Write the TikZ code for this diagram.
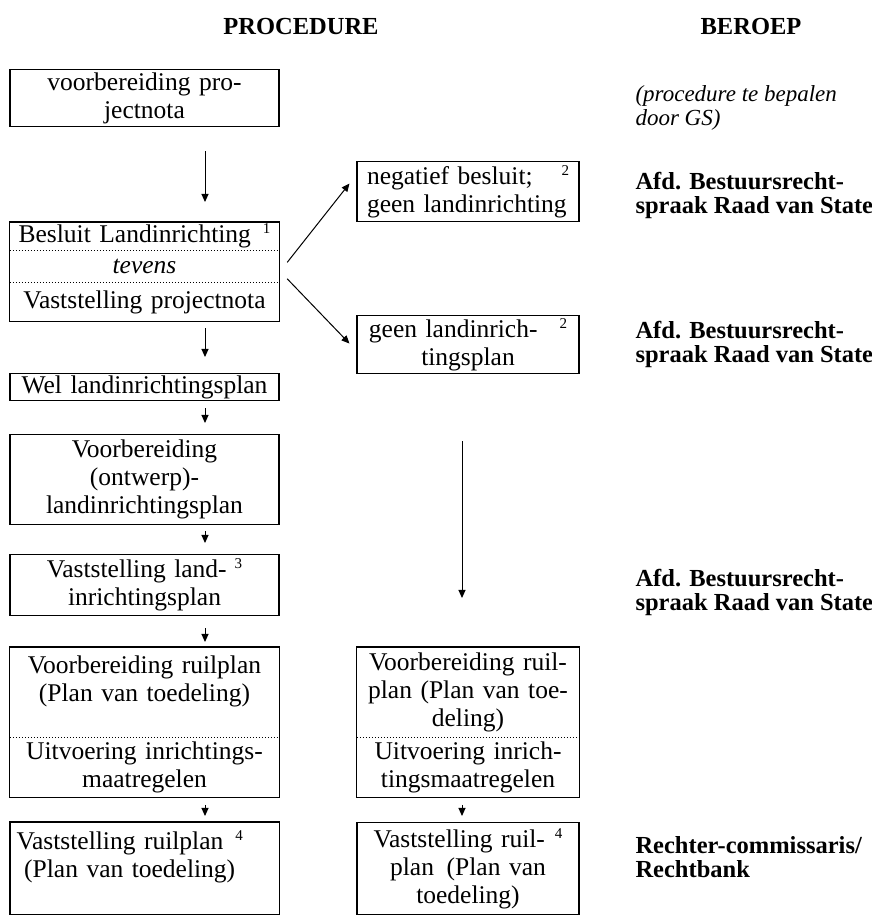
\documentclass[tikz,border=0pt]{standalone}
\usepackage{fontspec}
\setmainfont{Liberation Serif}
\usetikzlibrary{positioning,arrows.meta}
\newcommand{\noot}[1]{\raisebox{9pt}{\fontsize{15}{15}\selectfont #1}}

\begin{document}
\begin{tikzpicture}[
  x=1pt, y=1pt,
  cell/.style={anchor=north, inner xsep=5pt, inner ysep=1pt, align=center,
    font=\fontsize{25.5}{28}\selectfont},
  colL/.style={text width=259pt},
  colM/.style={text width=212pt},
  box/.style={cell, draw, line width=1.1pt},
  frame/.style={line width=1.1pt},
  sep/.style={dotted, line width=1pt},
  arr/.style={-{Triangle[length=8pt,width=7pt]}, line width=1pt},
  kop/.style={anchor=base, font=\bfseries\fontsize{24.5}{28}\selectfont},
  instantie/.style={anchor=west, align=left, font=\bfseries\fontsize{24.5}{24}\selectfont}
]
\useasboundingbox (0,0) rectangle (872,916);

% kolomkoppen
\node[kop] (procedure) at (301,881) {PROCEDURE};
\node[kop] (beroep) at (751,881) {BEROEP};

% procedure, linker kolom
\node[box, colL, minimum height=57pt] (pn) at (144.5,847) {voorbereiding pro-\\jectnota};
\node[cell, colL, minimum height=28pt] (bl) at (144.5,694) {Besluit Landinrichting\hspace{12pt}\noot{1}};
\node[cell, colL, minimum height=32pt, below=0pt of bl, font=\fontsize{25.5}{28}\selectfont\itshape] (tv) {tevens};
\node[cell, colL, minimum height=38pt, below=0pt of tv] (vp) {Vaststelling projectnota};
\draw[frame] (bl.north west) rectangle (vp.south east);
\draw[sep] (bl.south west) -- (bl.south east);
\draw[sep] (tv.south west) -- (tv.south east);
\node[box, colL, minimum height=27pt] (wl) at (144.5,543) {Wel landinrichtingsplan};
\node[box, colL, minimum height=90pt] (vo) at (144.5,482) {Voorbereiding\\(ontwerp)-\\landinrichtingsplan};
\node[box, colL, minimum height=61pt] (vl) at (144.5,362) {Vaststelling land-\hspace{8pt}\noot{3}\\inrichtingsplan};
\node[cell, colL, minimum height=90pt] (rp) at (144.5,269) {Voorbereiding ruilplan\\(Plan van toedeling)\\\mbox{}};
\node[cell, colL, minimum height=60pt, below=0pt of rp] (ui) {Uitvoering inrichtings-\\maatregelen};
\draw[frame] (rp.north west) rectangle (ui.south east);
\draw[sep] (rp.south west) -- (rp.south east);
\node[cell, text width=229pt, minimum height=92pt, anchor=north west] (vr) at (10,94) {Vaststelling ruilplan\hspace{12pt}\noot{4}\\(Plan van toedeling)\\\mbox{}};
\draw[frame] (vr.north west) rectangle ([xshift=30pt]vr.south east);

% procedure, middelste kolom
\node[box, colM, text width=202pt, inner xsep=10pt, align=left, minimum height=60pt] (nb) at (468,755) {negatief besluit;\hfill\noot{2}\\geen landinrichting};
\node[box, colM, minimum height=58pt] (gp) at (468,601) {geen landinrich-\hspace{22pt}\noot{2}\\tingsplan};
\node[cell, colM, minimum height=90pt] (rpm) at (468,269) {Voorbereiding ruil-\\plan (Plan van toe-\\deling)};
\node[cell, colM, minimum height=60pt, below=0pt of rpm] (uim) {Uitvoering inrich-\\tingsmaatregelen};
\draw[frame] (rpm.north west) rectangle (uim.south east);
\draw[sep] (rpm.south west) -- (rpm.south east);
\node[box, colM, minimum height=92pt] (vrm) at (468,94) {Vaststelling ruil-\hspace{10pt}\noot{4}\\plan\enspace(Plan van\\toedeling)};

% beroep
\node[anchor=west, align=left, font=\fontsize{23}{24}\selectfont\itshape] (gs) at (632,808) {(procedure te bepalen\\door GS)};
\node[instantie] (rvs1) at (632,721) {Afd. Bestuursrecht-\\spraak Raad van State};
\node[instantie] (rvs2) at (632,572) {Afd. Bestuursrecht-\\spraak Raad van State};
\node[instantie] (rvs3) at (632,324) {Afd. Bestuursrecht-\\spraak Raad van State};
\node[instantie] (rb) at (632,59) {Rechter-commissaris/\\Rechtbank};

% pijlen
\draw[arr, shorten <=24pt, shorten >=20pt] ([xshift=60.5pt]pn.south) -- ([xshift=60.5pt]bl.north);
\draw[arr, shorten <=7pt, shorten >=16pt] ([xshift=60.5pt]vp.south) -- ([xshift=60.5pt]wl.north);
\draw[arr, shorten <=7pt, shorten >=11pt] ([xshift=60.5pt]wl.south) -- ([xshift=60.5pt]vo.north);
\draw[arr, shorten <=6pt, shorten >=11pt] ([xshift=60.5pt]vo.south) -- ([xshift=60.5pt]vl.north);
\draw[arr, shorten <=12pt, shorten >=5pt] ([xshift=60.5pt]vl.south) -- ([xshift=60.5pt]rp.north);
\draw[arr, shorten <=7pt, shorten >=6pt] ([xshift=60.5pt]ui.south) -- ([xshift=60.5pt]ui.south |- vr.north);
\draw[arr] ([shift={(8,-12)}]tv.north east) -- ([shift={(-7,8)}]nb.west);
\draw[arr] ([shift={(8,4)}]tv.south east) -- ([shift={(-7,1)}]gp.west);
\draw[arr, shorten <=67pt, shorten >=49pt] ([xshift=-6pt]gp.south) -- ([xshift=-6pt]rpm.north);
\draw[arr, shorten <=7pt, shorten >=6pt] ([xshift=-6pt]uim.south) -- ([xshift=-6pt]vrm.north);
\end{tikzpicture}
\end{document}
